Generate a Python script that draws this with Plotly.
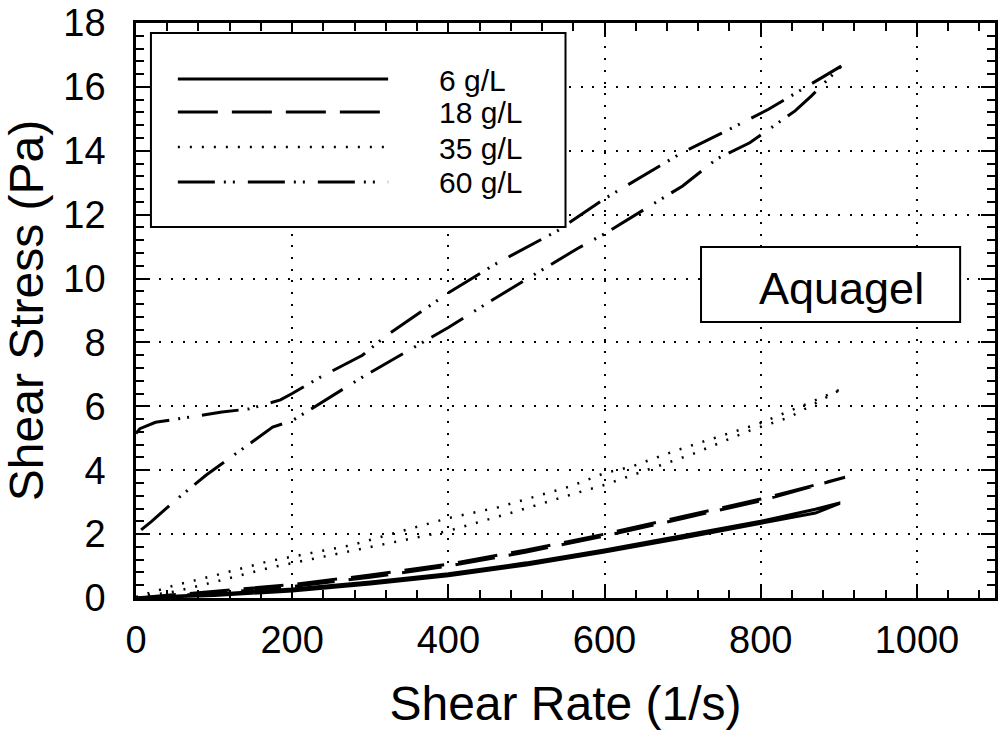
import plotly.graph_objects as go

# ---------------- data ----------------
# 6 g/L  (two branches of the hysteresis loop)
rate_6 = [0, 100, 200, 300, 400, 500, 600, 700, 800, 870, 900]
stress_6_upper = [0, 0.12, 0.28, 0.50, 0.76, 1.10, 1.50, 1.95, 2.40, 2.78, 2.97]
stress_6_lower = [0, 0.08, 0.22, 0.44, 0.70, 1.03, 1.44, 1.88, 2.33, 2.66, 2.95]

# 18 g/L
rate_18 = [0, 100, 200, 300, 400, 500, 600, 700, 800, 908]
stress_18_upper = [0, 0.20, 0.42, 0.72, 1.06, 1.50, 2.00, 2.55, 3.10, 3.78]
stress_18_lower = [0, 0.15, 0.36, 0.65, 1.00, 1.44, 1.94, 2.49, 3.04, 3.78]

# 35 g/L
rate_35_upper = [0, 50, 100, 170, 275, 400, 464, 527, 557, 600, 633, 693, 799, 865, 905]
stress_35_upper = [0.03, 0.40, 0.70, 1.15, 1.65, 2.50, 2.84, 3.28, 3.50, 3.91, 4.10, 4.63, 5.47, 6.14, 6.56]
rate_35_lower = [0, 50, 100, 170, 277, 400, 485, 549, 566, 600, 625, 714, 786, 837, 905]
stress_35_lower = [0.02, 0.20, 0.50, 0.94, 1.47, 2.10, 2.70, 3.17, 3.30, 3.54, 3.74, 4.52, 5.24, 5.66, 6.56]

# 60 g/L
rate_60_upper = [0, 5, 25, 55, 110, 145, 185, 200, 235, 290, 320, 400, 460, 540, 600, 700, 750, 810, 854, 903]
stress_60_upper = [5.15, 5.30, 5.50, 5.62, 5.82, 5.92, 6.20, 6.40, 6.90, 7.60, 8.20, 9.55, 10.45, 11.50, 12.50,
                   13.95, 14.55, 15.30, 15.95, 16.65]
rate_60_lower = [0, 20, 50, 90, 107, 175, 200, 289, 400, 459, 566, 600, 700, 744, 786, 805, 818, 844, 865, 903]
stress_60_lower = [2.00, 2.40, 3.05, 3.85, 4.15, 5.35, 5.55, 6.90, 8.47, 9.37, 10.95, 11.40, 12.90, 13.75,
                   14.25, 14.57, 14.80, 15.25, 15.72, 16.65]

series_names = ["6 g/L", "18 g/L", "35 g/L", "60 g/L"]
x_ticks = [0, 200, 400, 600, 800, 1000]
y_ticks = [0, 2, 4, 6, 8, 10, 12, 14, 16, 18]

FONT = "Liberation Sans, Arial, Helvetica, sans-serif"

# line styles
styles = {
    "6 g/L": dict(color="black", width=3, dash="solid"),
    "18 g/L": dict(color="black", width=3, dash="40px,14px"),
    "35 g/L": dict(color="black", width=2.5, dash="2px,10px"),
    "60 g/L": dict(color="black", width=3, dash="37px,9px,2px,7px,2px,13px"),
}


def loop(x_up, y_up, x_down, y_down):
    return list(x_up) + list(reversed(x_down)), list(y_up) + list(reversed(y_down))


loops = {
    "6 g/L": loop(rate_6, stress_6_upper, rate_6, stress_6_lower),
    "18 g/L": loop(rate_18, stress_18_upper, rate_18, stress_18_lower),
    "35 g/L": loop(rate_35_upper, stress_35_upper, rate_35_lower, stress_35_lower),
    "60 g/L": loop(rate_60_upper, stress_60_upper, rate_60_lower, stress_60_lower),
}

fig = go.Figure()
for name in series_names:
    xs, ys = loops[name]
    fig.add_trace(go.Scatter(x=xs, y=ys, mode="lines", name=name, line=styles[name],
                             showlegend=False, hoverinfo="x+y+name"))

# ---------------- layout ----------------
W, H = 1000, 736
L, R, T, B = 136, 2, 23, 138
PW, PH = W - L - R, H - T - B


def px_x(px):
    return (px - L) / PW


def px_y(py):
    return (H - B - py) / PH


axis_common = dict(
    showline=True, linewidth=2.5, linecolor="black", mirror="allticks",
    ticks="inside", ticklen=14, tickwidth=2, tickcolor="black",
    showgrid=True, gridcolor="black", gridwidth=2, griddash="2px,9.7px",
    zeroline=False,
    tickfont=dict(family=FONT, size=38, color="black"),
)

fig.update_layout(
    width=W, height=H,
    margin=dict(l=L, r=R, t=T, b=B),
    paper_bgcolor="white", plot_bgcolor="white",
    font=dict(family=FONT, color="black"),
    xaxis=dict(
        range=[0, 1100], tickvals=x_ticks, ticktext=[str(v) for v in x_ticks],
        ticklabelstandoff=7,
        minor=dict(dtick=40, tick0=0, ticks="inside", ticklen=8, tickwidth=2, tickcolor="black", showgrid=False),
        title=dict(text="Shear Rate (1/s)", font=dict(family=FONT, size=48, color="black"), standoff=27),
        **axis_common,
    ),
    yaxis=dict(
        range=[0, 18], tickvals=y_ticks, ticktext=[str(v) for v in y_ticks],
        ticklabelstandoff=20,
        minor=dict(dtick=0.4, tick0=0, ticks="inside", ticklen=8, tickwidth=2, tickcolor="black", showgrid=False),
        title=dict(text="Shear Stress (Pa)", font=dict(family=FONT, size=48, color="black"), standoff=12),
        **axis_common,
    ),
)

shapes = []
annotations = []

# legend box
shapes.append(dict(type="rect", xref="paper", yref="paper",
                   x0=px_x(151), x1=px_x(567), y0=px_y(227), y1=px_y(33),
                   line=dict(color="black", width=2), fillcolor="white", layer="above"))
legend_rows = [79, 112, 147, 182]
for name, row in zip(series_names, legend_rows):
    st = styles[name]
    shapes.append(dict(type="line", xref="paper", yref="paper",
                       x0=px_x(178), x1=px_x(389), y0=px_y(row), y1=px_y(row),
                       line=dict(color="black", width=st["width"], dash=st["dash"]), layer="above"))
    annotations.append(dict(text=name, xref="paper", yref="paper", x=px_x(438), y=px_y(row + 1),
                            xanchor="left", yanchor="middle", showarrow=False,
                            font=dict(family=FONT, size=30, color="black")))

# Aquagel box
shapes.append(dict(type="rect", xref="paper", yref="paper",
                   x0=px_x(703), x1=px_x(963), y0=px_y(322), y1=px_y(247),
                   line=dict(color="black", width=2), fillcolor="white", layer="above"))
annotations.append(dict(text="Aquagel", xref="paper", yref="paper", x=px_x(844), y=px_y(288),
                        xanchor="center", yanchor="middle", showarrow=False,
                        font=dict(family=FONT, size=45, color="black")))

fig.update_layout(shapes=shapes, annotations=annotations)

fig.write_html("out.html")
